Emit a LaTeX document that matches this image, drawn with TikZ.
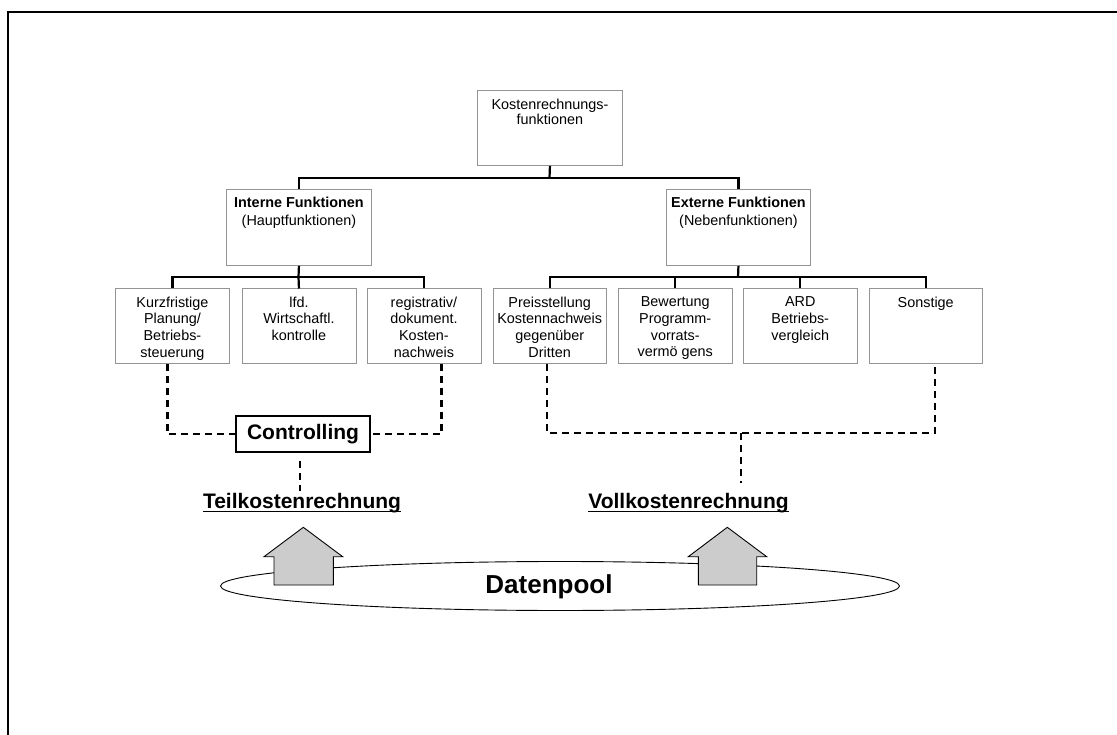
\documentclass[tikz,border=0pt]{standalone}
\usepackage{fontspec}
\setmainfont{Liberation Sans}
% top-aligned, centred text block of fixed size: width, height, top gap, baselineskip, text
\newcommand{\cellbody}[5]{\parbox[c][#2][t]{#1}{\fontsize{14.4}{#4}\selectfont\centering\vspace*{#3}#5}}
\begin{document}
\begin{tikzpicture}[x=1pt,y=-1pt,
  fnbox/.style={draw=black!42, line width=0.9pt, inner sep=0pt, anchor=north west},
  link/.style={line width=2.2pt},
  dlink/.style={line width=2.2pt, dash pattern=on 7pt off 5pt},
  bigbold/.style={font=\fontsize{21}{25}\selectfont\bfseries, inner sep=0pt},
  uparrow/.style={draw=black, line width=0.9pt, fill=black!20}]
\useasboundingbox (0,0) rectangle (1117,735);

% outer frame (only top and left edges lie inside the page)
\draw[line width=2.2pt] (8,735) -- (8,12) -- (1117,12);

% hierarchy of cost accounting functions
\node[fnbox] (top) at (477,90) {\cellbody{145pt}{75pt}{8.5pt}{15pt}{Kostenrechnungs-\\funktionen}};
\node[fnbox] (int) at (226,189) {\cellbody{145pt}{76pt}{7.5pt}{18.5pt}{\textbf{Interne Funktionen}\\(Hauptfunktionen)}};
\node[fnbox] (ext) at (666,189) {\cellbody{144pt}{76pt}{7.5pt}{18.5pt}{\textbf{Externe Funktionen}\\(Nebenfunktionen)}};

\node[fnbox] (l1) at (115,288.5) {\cellbody{114pt}{74.5pt}{8pt}{16.6pt}{Kurzfristige\\Planung/\\Betriebs-\\steuerung}};
\node[fnbox] (l2) at (241.5,288.5) {\cellbody{114pt}{74.5pt}{8pt}{16.6pt}{lfd.\\Wirtschaftl.\\kontrolle}};
\node[fnbox] (l3) at (366.5,288.5) {\cellbody{114pt}{74.5pt}{8pt}{16.6pt}{registrativ/\\dokument.\\Kosten-\\nachweis}};

\node[fnbox] (r1) at (492.5,288.5) {\cellbody{113.5pt}{74.5pt}{8pt}{16.6pt}{Preisstellung\\Kostennachweis\\gegenüber\\Dritten}};
\node[fnbox] (r2) at (618,288.5) {\cellbody{113.5pt}{74.5pt}{8pt}{16.6pt}{Bewertung\\Programm-\\vorrats-\\vermö gens}};
\node[fnbox] (r3) at (743,288.5) {\cellbody{113.5pt}{74.5pt}{8pt}{16.6pt}{ARD\\Betriebs-\\vergleich}};
\node[fnbox] (r4) at (868.5,288.5) {\cellbody{113.5pt}{74.5pt}{8pt}{16.6pt}{Sonstige}};

% tree connectors
\coordinate (busT) at (549.5,178);
\coordinate (busL) at (298.5,277);
\coordinate (busR) at (738,277);
\draw[link] (top.south) -- (busT);
\draw[link] (int.north) |- (busT) -| (ext.north);
\draw[link] (int.south) -- (busL);
\draw[link] (l1.north) |- (busL) -| (l3.north);
\draw[link] (busL) -- (l2.north);
\draw[link] (ext.south) -- (busR);
\draw[link] (r1.north) |- (busR) -| (r4.north);
\draw[link] (r2.north) -- (r2.north |- busR);
\draw[link] (r3.north) -- (r3.north |- busR);

% controlling and the two accounting systems
\node[draw=black, line width=1.2pt, minimum width=134pt, minimum height=36pt, inner sep=0pt,
      font=\fontsize{21}{25}\selectfont\bfseries] (ctrl) at (303,434) {Controlling};
\node[bigbold, anchor=base] (teil) at (302,508) {Teilkostenrechnung};
\node[bigbold, anchor=base] (voll) at (688.5,508) {Vollkostenrechnung};
\draw[line width=1.6pt] ([yshift=-3.5pt]teil.base west) -- ([yshift=-3.5pt]teil.base east);
\draw[line width=1.6pt] ([yshift=-3.5pt]voll.base west) -- ([yshift=-3.5pt]voll.base east);

\draw[dlink] ([xshift=-5pt]l1.south) |- (ctrl.west);
\draw[dlink] ([xshift=17.5pt]l3.south) |- (ctrl.east);
\coordinate (ctrlLow) at (300,461);
\coordinate (teilTop) at (300,491);
\draw[dlink] (ctrlLow) -- (teilTop);

\coordinate (joinR) at (741,433);
\coordinate (vollTop) at (741,483);
\draw[dlink] ([xshift=-2.5pt]r1.south) |- (joinR) -| ([xshift=9pt]r4.south);
\draw[dlink] (joinR) -- (vollTop);

% data pool with the two feeding arrows
\draw[line width=0.9pt, fill=white] (560,586) ellipse [x radius=339.5, y radius=24.5];
\draw[uparrow] (274,585) -- (274,556.7) -- (264,556.7) -- (303.3,527.3) -- (342.7,556.7)
  -- (333.3,556.7) -- (333.3,585) -- cycle;
\draw[uparrow] (698.3,585) -- (698.3,556.7) -- (688.3,556.7) -- (727.3,527.3) -- (766.7,556.7)
  -- (756.7,556.7) -- (756.7,585) -- cycle;
\node[font=\fontsize{26}{30}\selectfont\bfseries, inner sep=0pt] (pool) at (549,587) {Datenpool};
\end{tikzpicture}
\end{document}
